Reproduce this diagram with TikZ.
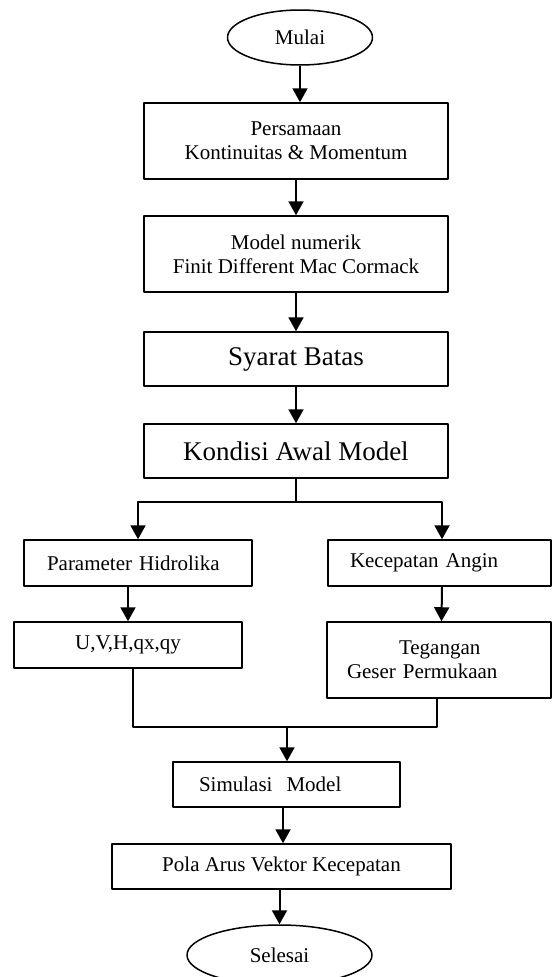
\documentclass[tikz,border=0pt]{standalone}
\usepackage{fontspec}
\setmainfont{Liberation Serif}
\usetikzlibrary{shapes.geometric,arrows.meta}
\begin{document}
\begin{tikzpicture}[x=1pt, y=-1pt, line join=round, >={Triangle[width=15pt,length=14pt]}, font=\fontsize{21}{24}\selectfont,
	kotak/.style={draw, line width=1.5pt, inner sep=0pt, align=center},
	besar/.style={font=\fontsize{27}{30}\selectfont},
	oval/.style={draw, ellipse, line width=1.5pt, inner sep=0pt},
	alur/.style={line width=2pt}]
	\useasboundingbox (0,0) rectangle (552,977);
	\node[oval, minimum width=145, minimum height=55] (mulai) at (300,37.5) {Mulai};
	\node[kotak, minimum width=304, minimum height=76] (persamaan) at (296,141) {Persamaan\\Kontinuitas \& Momentum};
	\node[kotak, minimum width=304, minimum height=76] (numerik) at (296,254) {Model numerik\\Finit Different Mac Cormack};
	\node[kotak, besar, minimum width=304, minimum height=54] (syarat) at (296,359) {Syarat Batas};
	\node[kotak, besar, minimum width=304, minimum height=54] (kondisi) at (296,451) {Kondisi Awal Model};
	\node[kotak, text width=182, inner xsep=23, align=left, minimum height=46] (hidro) at (138,563) {Parameter Hidrolika};
	\node[kotak, text width=179, inner xsep=22, align=left, minimum height=46] (angin) at (439.5,563) {Kecepatan Angin};
	\node[kotak, minimum width=228, minimum height=46] (uvh) at (128,645) {U,V,H,qx,qy};
	\node[kotak, text width=184, inner xsep=20, align=left, minimum height=76] (geser) at (439,660) {\hspace*{52pt}Tegangan\\Geser Permukaan};
	\node[kotak, text width=175, inner xsep=26, align=left, minimum height=45] (simulasi) at (286.5,784.5) {Simulasi\ \ Model};
	\node[kotak, minimum width=339, minimum height=45] (pola) at (281.5,866.5) {Pola Arus Vektor Kecepatan};
	\node[oval, minimum width=185, minimum height=60] (selesai) at (279.5,955) {Selesai};
	\coordinate (bagi) at (296,502);
	\coordinate (gabung) at (287,727);
	\draw[alur,->] (mulai) -- (mulai |- persamaan.north);
	\draw[alur,->] (persamaan) -- (numerik);
	\draw[alur,->] (numerik) -- (syarat);
	\draw[alur,->] (syarat) -- (kondisi);
	\draw[alur] (kondisi) -- (bagi);
	\draw[alur,->] (bagi) -| (hidro.north);
	\draw[alur,->] (bagi) -| ([xshift=2.5]angin.north);
	\draw[alur,->] (hidro.south -| uvh) -- (uvh);
	\draw[alur,->] ([xshift=2.5]angin.south) -- ([xshift=2.5]geser.north);
	\draw[alur] ([xshift=5]uvh.south) |- (gabung) -| ([xshift=-2]geser.south);
	\draw[alur,->] (gabung) -- (gabung |- simulasi.north);
	\draw[alur,->] (simulasi.south -| 283,0) -- (pola.north -| 283,0);
	\draw[alur,->] (pola.south -| selesai) -- (selesai);
\end{tikzpicture}
\end{document}
